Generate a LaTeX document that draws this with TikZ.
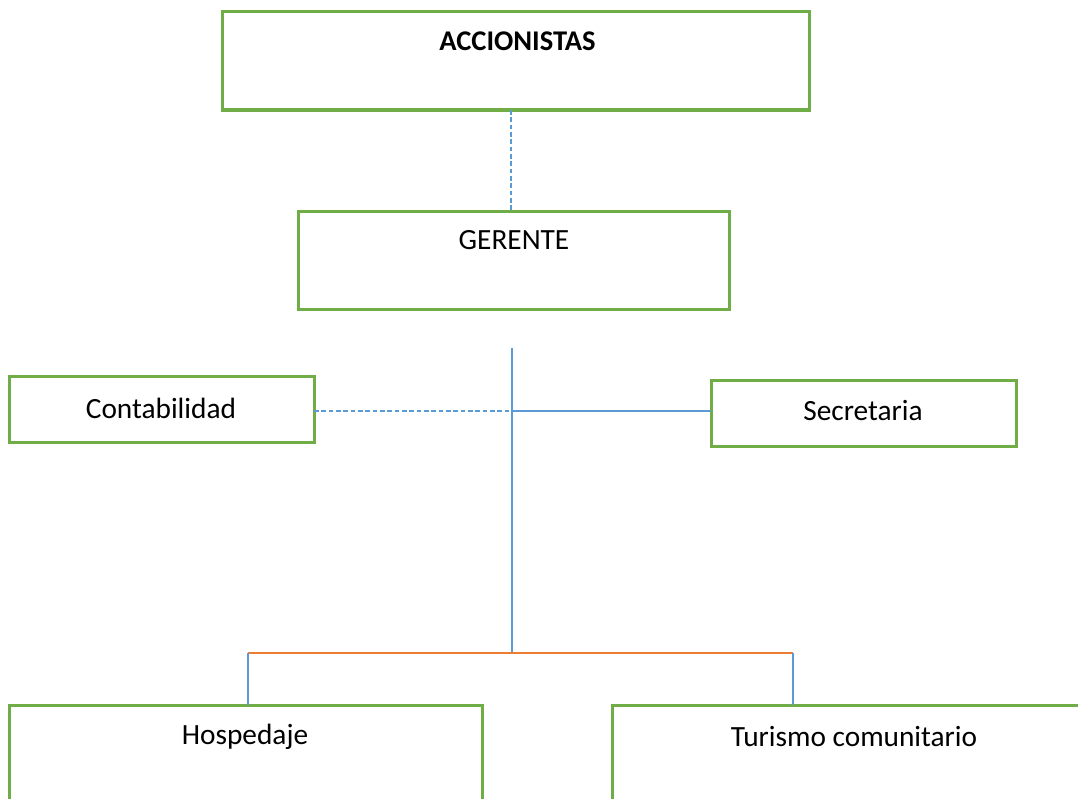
\documentclass[tikz,border=0pt]{standalone}
\usepackage{fontspec}
\setmainfont{Carlito}
\usetikzlibrary{calc}
\definecolor{boxgreen}{HTML}{70AD47}
\definecolor{lineblue}{HTML}{5B9BD5}
\definecolor{lineorange}{HTML}{ED7D31}
\tikzset{
  orgbox/.style={draw=boxgreen, line width=2.25pt, rectangle, inner sep=0pt, outer sep=0pt, fill=white},
  lbl/.style={inner sep=0pt, font=\fontsize{22}{26}\selectfont},
  boldlbl/.style={inner sep=0pt, font=\fontsize{21.4}{25}\selectfont\bfseries},
  conn/.style={draw=lineblue, line width=0.9pt},
  dashconn/.style={draw=lineblue, line width=0.9pt, dash pattern=on 3.5pt off 2pt},
  orconn/.style={draw=lineorange, line width=0.9pt}
}
\begin{document}
\begin{tikzpicture}[x=0.75pt, y=-0.75pt]
\clip (0,0) rectangle (1078,799);
\fill[white] (0,0) rectangle (1078,799);
% boxes
\node[orgbox, minimum width=440.25pt, minimum height=73.5pt] (acc) at (515.5,61) {};
\node[orgbox, minimum width=323.25pt, minimum height=73.5pt] (ger) at (513.5,260) {};
\node[orgbox, minimum width=228.75pt, minimum height=49.5pt] (con) at (161.5,409) {};
\node[orgbox, minimum width=228.75pt, minimum height=49.5pt] (sec) at (863.5,413) {};
\node[orgbox, minimum width=354.75pt, minimum height=73.5pt] (hos) at (245.5,754) {};
\node[orgbox, minimum width=354.75pt, minimum height=73.5pt] (tur) at (848.5,754) {};
% labels
\node[boldlbl] (taccl) at (517.5,41) {ACCIONISTAS};
\node[lbl] (tger) at (514,240) {GERENTE};
\node[lbl] (tcon) at (161,408) {Contabilidad};
\node[lbl] (tsec) at (863,411) {Secretaria};
\node[lbl] (thos) at (245,737) {Hospedaje};
\node[lbl] (ttur) at (854,737) {Turismo comunitario};
% connector points
\coordinate (top) at (511,110);
\coordinate (s1) at (512,348);
\coordinate (j) at (512,411);
\coordinate (s2) at (512,653);
\coordinate (hb) at (248,653);
\coordinate (tb) at (793,653);
% connectors
\draw[dashconn] (acc.south -| top) -- (ger.north -| top);
\draw[conn] (s1) -- (s2);
\draw[dashconn] (con.east |- j) -- (j);
\draw[conn] (j) -- (sec.west |- j);
\draw[orconn] (hb) -- (tb);
\draw[conn] (hb) -- (hb |- hos.north);
\draw[conn] (tb) -- (tb |- tur.north);
\end{tikzpicture}
\end{document}
